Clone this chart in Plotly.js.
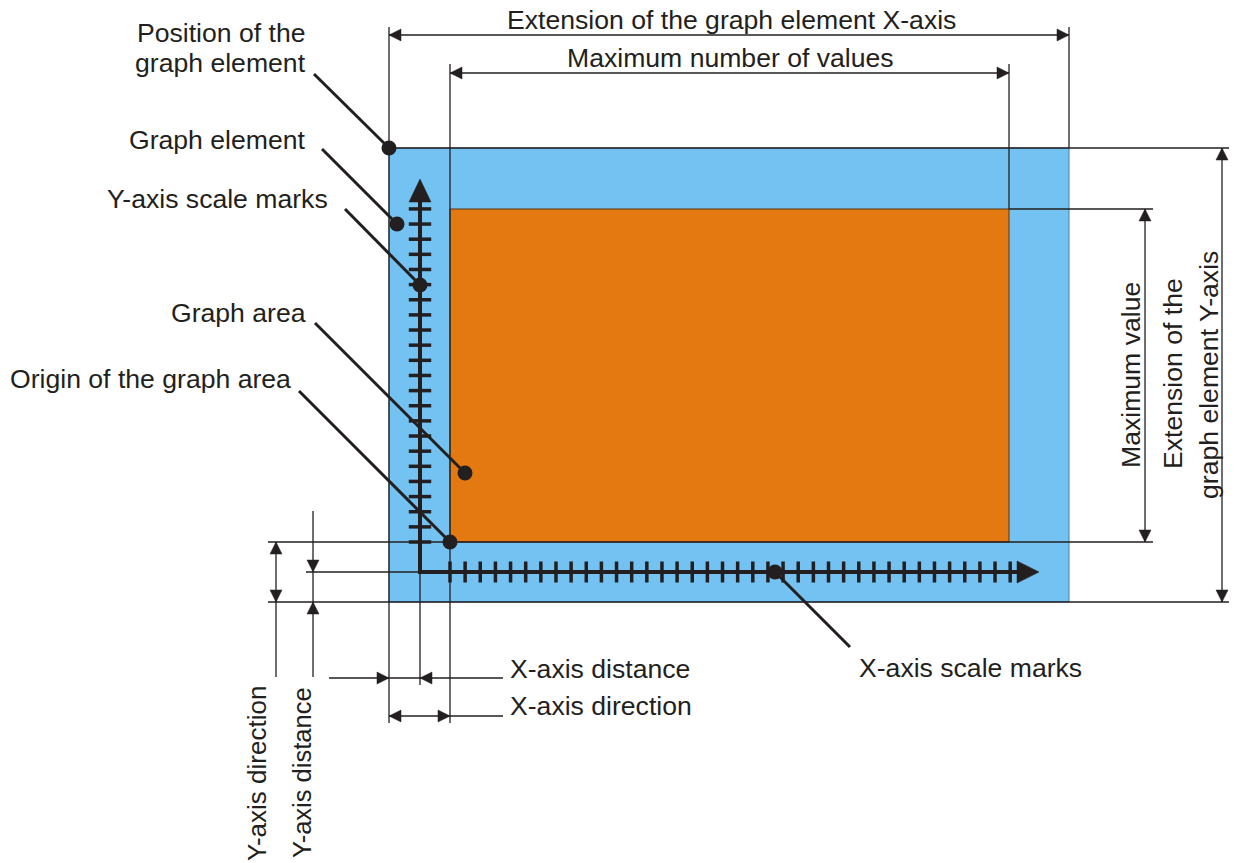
<!DOCTYPE html>
<html>
<head>
<meta charset="utf-8">
<script src="https://cdn.plot.ly/plotly-3.0.1.min.js"></script>
<style>html,body{margin:0;padding:0;background:#fff;}#chart{width:1239px;height:863px;}</style>
</head>
<body>
<div id="chart"></div>
<script>
// ---- Diagram content (pixel-space coordinates of the drawing) ----
const INK = "#231f20";
const BLUE = "#73c2f1";
const ORANGE = "#e47912";

// Graph element (blue) and graph area (orange): [x0, y0, x1, y1]
const graphElement = [389, 148, 1069, 602];
const graphArea = [450, 209, 1009, 542];

// Axis origin and scale-mark settings
const axisOrigin = [420, 572];
const yAxisTop = 179;       // tip of Y arrow
const xAxisRight = 1039;    // tip of X arrow
const markStep = 15.14;
const xMarkCount = 38;      // marks from x=450
const yMarkCount = 23;      // marks from y=542
const xMarkStart = 450;
const yMarkStart = 542;

// Thin dimension / extension lines: [x0, y0, x1, y1]
const thinLines = [
  [389, 27, 389, 723], [450, 64, 450, 723], [1009, 64, 1009, 209], [1069, 27, 1069, 148],
  [389, 148, 1229, 148], [1009, 209, 1153, 209], [268, 542, 1153, 542],
  [268, 602, 1229, 602], [306, 572, 420, 572], [420, 572, 420, 685],
  [276, 542, 276, 677], [313, 511, 313, 677],
  [329, 678, 503, 678], [389, 716, 503, 716],
  [389, 35, 1069, 35], [450, 73, 1009, 73],
  [1145, 209, 1145, 542], [1222, 148, 1222, 602]
];

// Small arrowheads: [tipX, tipY, direction]
const smallHeads = [
  [389, 35, "l"], [1069, 35, "r"], [450, 73, "l"], [1009, 73, "r"],
  [1145, 209, "u"], [1145, 542, "d"], [1222, 148, "u"], [1222, 602, "d"],
  [276, 542, "u"], [276, 602, "d"], [313, 572, "d"], [313, 602, "u"],
  [389, 678, "r"], [420, 678, "l"], [389, 716, "l"], [450, 716, "r"]
];

// Callout dots and leader lines: dot [x, y], leader start [x, y]
const dotX = [389, 397, 420, 465, 450, 775];
const dotY = [148, 224, 285, 473, 542, 572];
const leaderFromX = [314, 322, 345, 315, 299, 850];
const leaderFromY = [74, 149, 209, 323, 391, 647];

// Text labels
const leftLabels = ["Position of the", "graph element", "Graph element", "Y-axis scale marks", "Graph area", "Origin of the graph area"];
const leftLabelRight = [306, 306, 306, 328, 306, 291];
const leftLabelY = [33, 63, 140, 199, 313, 379];

const plainLabels = ["X-axis scale marks", "X-axis distance", "X-axis direction"];
const plainLabelLeft = [859, 510, 510];
const plainLabelY = [668, 669, 706];

const topLabels = ["Extension of the graph element X-axis", "Maximum number of values"];
const topLabelX = [731, 730];
const topLabelY = [20, 58];

const rotLabels = ["Maximum value", "Extension of the", "graph element Y-axis", "Y-axis direction", "Y-axis distance"];
const rotLabelX = [1131, 1173, 1209, 257, 302];
const rotLabelY = [375, 374, 375, 774, 773];
const rotLabelSize = [26.6, 26.6, 26.6, 26, 25.5];

// ---- Build figure ----
const FONT = "Liberation Sans, Arial, Helvetica, sans-serif";
const TEXT_SIZE = 26.6;
const shapes = [];

shapes.push({type: "rect", layer: "below", xref: "x", yref: "y",
  x0: graphElement[0], y0: graphElement[1], x1: graphElement[2], y1: graphElement[3],
  fillcolor: BLUE, line: {color: "#4d7c9c", width: 1}});
shapes.push({type: "rect", layer: "below", xref: "x", yref: "y",
  x0: graphArea[0], y0: graphArea[1], x1: graphArea[2], y1: graphArea[3],
  fillcolor: ORANGE, line: {color: "#5a3410", width: 1}});

thinLines.forEach(l => shapes.push({type: "line", xref: "x", yref: "y",
  x0: l[0], y0: l[1], x1: l[2], y1: l[3], line: {color: INK, width: 1.3}}));

// thick axes
shapes.push({type: "line", xref: "x", yref: "y", x0: axisOrigin[0], y0: axisOrigin[1] + 2,
  x1: axisOrigin[0], y1: yAxisTop + 20, line: {color: INK, width: 4}});
shapes.push({type: "line", xref: "x", yref: "y", x0: axisOrigin[0] - 2, y0: axisOrigin[1],
  x1: xAxisRight - 18, y1: axisOrigin[1], line: {color: INK, width: 4}});

function head(tx, ty, dir, len, half) {
  let p;
  if (dir === "u") p = [[tx, ty], [tx - half, ty + len], [tx + half, ty + len]];
  if (dir === "d") p = [[tx, ty], [tx - half, ty - len], [tx + half, ty - len]];
  if (dir === "l") p = [[tx, ty], [tx + len, ty - half], [tx + len, ty + half]];
  if (dir === "r") p = [[tx, ty], [tx - len, ty - half], [tx - len, ty + half]];
  return {type: "path", xref: "x", yref: "y",
    path: "M" + p.map(q => q[0] + "," + q[1]).join(" L") + " Z",
    fillcolor: INK, line: {color: INK, width: 0.5}};
}
smallHeads.forEach(h => shapes.push(head(h[0], h[1], h[2], 12, 6)));
shapes.push(head(axisOrigin[0], yAxisTop, "u", 23, 11));
shapes.push(head(xAxisRight, axisOrigin[1], "r", 22, 11));

// leaders
dotX.forEach((x, i) => shapes.push({type: "line", xref: "x", yref: "y",
  x0: leaderFromX[i], y0: leaderFromY[i], x1: x, y1: dotY[i], line: {color: INK, width: 3}}));

// scale marks (traces)
const xMarksX = [], xMarksY = [];
for (let k = 0; k < xMarkCount; k++) { xMarksX.push(xMarkStart + k * markStep); xMarksY.push(axisOrigin[1]); }
const yMarksX = [], yMarksY = [];
for (let k = 0; k < yMarkCount; k++) { yMarksX.push(axisOrigin[0]); yMarksY.push(yMarkStart - k * markStep); }

const traces = [
  {x: xMarksX, y: xMarksY, type: "scatter", mode: "markers", hoverinfo: "skip",
   marker: {symbol: "line-ns", size: 15, color: INK, line: {color: INK, width: 3.5}}},
  {x: yMarksX, y: yMarksY, type: "scatter", mode: "markers", hoverinfo: "skip",
   marker: {symbol: "line-ew", size: 16, color: INK, line: {color: INK, width: 3.5}}},
  {x: dotX, y: dotY, type: "scatter", mode: "markers", hoverinfo: "skip",
   marker: {symbol: "circle", size: 15, color: INK, line: {width: 0}}}
];

const annotations = [];
const base = {xref: "x", yref: "y", showarrow: false, borderpad: 0, borderwidth: 0};
leftLabels.forEach((t, i) => annotations.push(Object.assign({}, base, {
  text: t, x: leftLabelRight[i], y: leftLabelY[i], xanchor: "right", yanchor: "middle",
  font: {family: FONT, size: TEXT_SIZE, color: INK}})));
plainLabels.forEach((t, i) => annotations.push(Object.assign({}, base, {
  text: t, x: plainLabelLeft[i], y: plainLabelY[i], xanchor: "left", yanchor: "middle",
  font: {family: FONT, size: TEXT_SIZE, color: INK}})));
topLabels.forEach((t, i) => annotations.push(Object.assign({}, base, {
  text: t, x: topLabelX[i], y: topLabelY[i], xanchor: "center", yanchor: "middle",
  font: {family: FONT, size: TEXT_SIZE, color: INK}})));
rotLabels.forEach((t, i) => annotations.push(Object.assign({}, base, {
  text: t, x: rotLabelX[i], y: rotLabelY[i], xanchor: "center", yanchor: "middle", textangle: -90,
  font: {family: FONT, size: rotLabelSize[i], color: INK}})));

const layout = {
  width: 1239, height: 863,
  margin: {l: 0, r: 0, t: 0, b: 0, pad: 0},
  paper_bgcolor: "#ffffff", plot_bgcolor: "#ffffff",
  showlegend: false, hovermode: false,
  xaxis: {range: [0, 1239], visible: false, fixedrange: true},
  yaxis: {range: [863, 0], visible: false, fixedrange: true},
  shapes: shapes, annotations: annotations
};

Plotly.newPlot("chart", traces, layout, {staticPlot: true, displayModeBar: false});
</script>
</body>
</html>
